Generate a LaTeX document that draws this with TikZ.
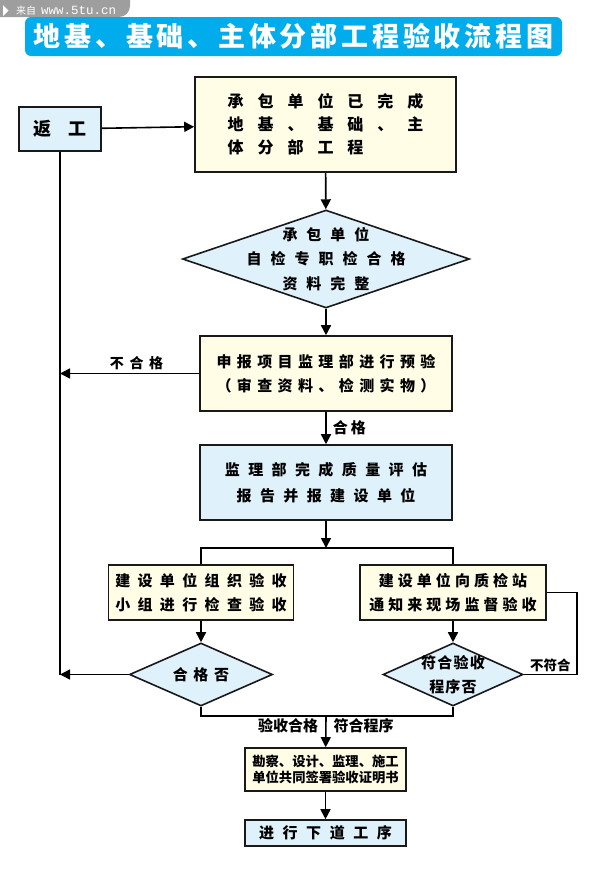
\documentclass[tikz,border=0pt]{standalone}
\usepackage{fontspec}
\newfontfamily\cjk{Noto Sans CJK SC}
\newfontfamily\wmono{Liberation Mono}
\usetikzlibrary{arrows.meta,shapes.geometric}
\definecolor{boxyellow}{RGB}{255,253,230}
\definecolor{boxblue}{RGB}{223,242,251}
\definecolor{titleblue}{RGB}{0,172,236}
\definecolor{markgray}{RGB}{158,158,158}
% size, leading, letter spacing
\newcommand\cnfont[3]{\cjk\bfseries\fontsize{#1}{#2}\selectfont\addfontfeature{LetterSpace=#3}}

\begin{document}
\begin{tikzpicture}[x=1pt,y=-1pt]
    \tikzstyle{box}=[draw=black!90, line width=1.6pt, align=center, inner sep=0pt]
    \tikzstyle{ybox}=[box, fill=boxyellow]
    \tikzstyle{bbox}=[box, fill=boxblue]
    \tikzstyle{dia}=[diamond, draw=black!90, line width=1.6pt, fill=boxblue, inner sep=0pt]
    \tikzstyle{txt}=[align=center, inner sep=0pt]
    \tikzstyle{ln}=[line width=1.6pt]
    \tikzstyle{arr}=[ln, -{Triangle[length=10pt,width=10pt]}]
    \useasboundingbox (0,0) rectangle (591,886);
    \fill[white] (0,0) rectangle (591,886);
    % watermark
    \fill[markgray, rounded corners=11pt] (-20,-20) rectangle (130,17);
    \fill[white] (3,5) -- (8.5,10.5) -- (3,16) -- cycle;
    \node[txt, anchor=west, text=white, font=\cjk\fontsize{10}{10}\selectfont] (wm) at (16,10.5)
        {来自\hspace{5pt}{\wmono\fontsize{12.5}{12}\selectfont www.5tu.cn}};
    % title
    \node[fill=titleblue, rounded corners=6pt, minimum width=537pt, minimum height=39pt] (tt) at (293.5,36.5) {};
    \node[txt, text=white, font=\cnfont{27}{27}{14}] (ttx) at (293.5,36.5) {地基、基础、主体分部工程验收流程图};

    \node[bbox, minimum width=82pt, minimum height=44pt, font=\cnfont{18}{18}{90}] (rw) at (60,129) {返工};
    \node[ybox, minimum width=261pt, minimum height=95pt, align=left, font=\cnfont{16}{23}{87}] (b1) at (325.5,124.5)
        {承包单位已完成\\地基、基础、主\\体分部工程};
    \node[dia, minimum width=287pt, minimum height=98pt] (d1) at (326,259) {};
    \node[txt, font=\cnfont{15}{24.5}{60}] (d1t) at (d1) {承包单位\\自检专职检合格\\资料完整};
    \node[ybox, minimum width=252pt, minimum height=75pt, font=\cnfont{15}{24}{36}] (b2) at (326,373.5)
        {申报项目监理部进行预验\\（审查资料、检测实物）};
    \node[bbox, minimum width=252pt, minimum height=75pt, font=\cnfont{15}{26}{56}] (b3) at (326,482.5)
        {监理部完成质量评估\\报告并报建设单位};
    \node[ybox, minimum width=185pt, minimum height=55pt, font=\cnfont{15}{24}{49}] (b4) at (201,592.5)
        {建设单位组织验收\\小组进行检查验收};
    \node[ybox, minimum width=186pt, minimum height=55pt, font=\cnfont{15}{24}{27}] (b5) at (453,592.5)
        {建设单位向质检站\\通知来现场监督验收};
    \node[dia, minimum width=143pt, minimum height=63pt] (d2) at (201,674.5) {};
    \node[txt, font=\cnfont{15}{15}{37}] (d2t) at (d2) {合格否};
    \node[dia, minimum width=140pt, minimum height=63pt] (d3) at (453,674.5) {};
    \node[txt, font=\cnfont{15}{24}{8}] (d3t) at (d3) {符合验收\\程序否};
    \node[ybox, minimum width=161pt, minimum height=43pt, font=\cnfont{13.3}{16}{0}] (b6) at (325.5,769.5)
        {勘察、设计、监理、施工\\单位共同签署验收证明书};
    \node[bbox, minimum width=161pt, minimum height=26pt, font=\cnfont{15}{15}{57}] (b7) at (325.5,833) {进行下道工序};

    \coordinate (j1) at (326,548);
    \coordinate (j2) at (326,716);
    \draw[arr] (rw) -- (b1);
    \draw[arr] (b1) -- (d1);
    \draw[arr] (d1) -- (b2);
    \draw[arr] (b2) -- (b3) node[midway, right=6pt, txt, font=\cnfont{15}{15}{20}] (ok1) {合格};
    \draw[ln] (rw.south) -- (rw.south |- d2.west);
    \draw[arr] (b2.west) -- (b2.west -| rw.south) node[pos=0.45, above=3pt, txt, font=\cnfont{14}{14}{40}] (ng1) {不合格};
    \draw[arr] (b3) -- (j1);
    \draw[ln] (b4.north) |- (j1) -| (b5.north);
    \draw[arr] (b4) -- (d2);
    \draw[arr] (b5) -- (d3);
    \draw[arr] (d2.west) -- (d2.west -| rw.south);
    \draw[ln] (b5.east) -- ++(30,0) |- (d3.east) node[pos=0.75, above=2pt, txt, font=\cnfont{13.5}{13.5}{0}] (ng2) {不符合};
    \draw[ln] (d2.south) |- (j2) -| (d3.south);
    \draw[arr] (j2) -- (b6) node[pos=0.3, left=7pt, txt, font=\cnfont{15}{15}{0}] (ok2) {验收合格}
                            node[pos=0.3, right=7pt, txt, font=\cnfont{15}{15}{0}] (ok3) {符合程序};
    \draw[arr] (b6) -- (b7);
\end{tikzpicture}
\end{document}
